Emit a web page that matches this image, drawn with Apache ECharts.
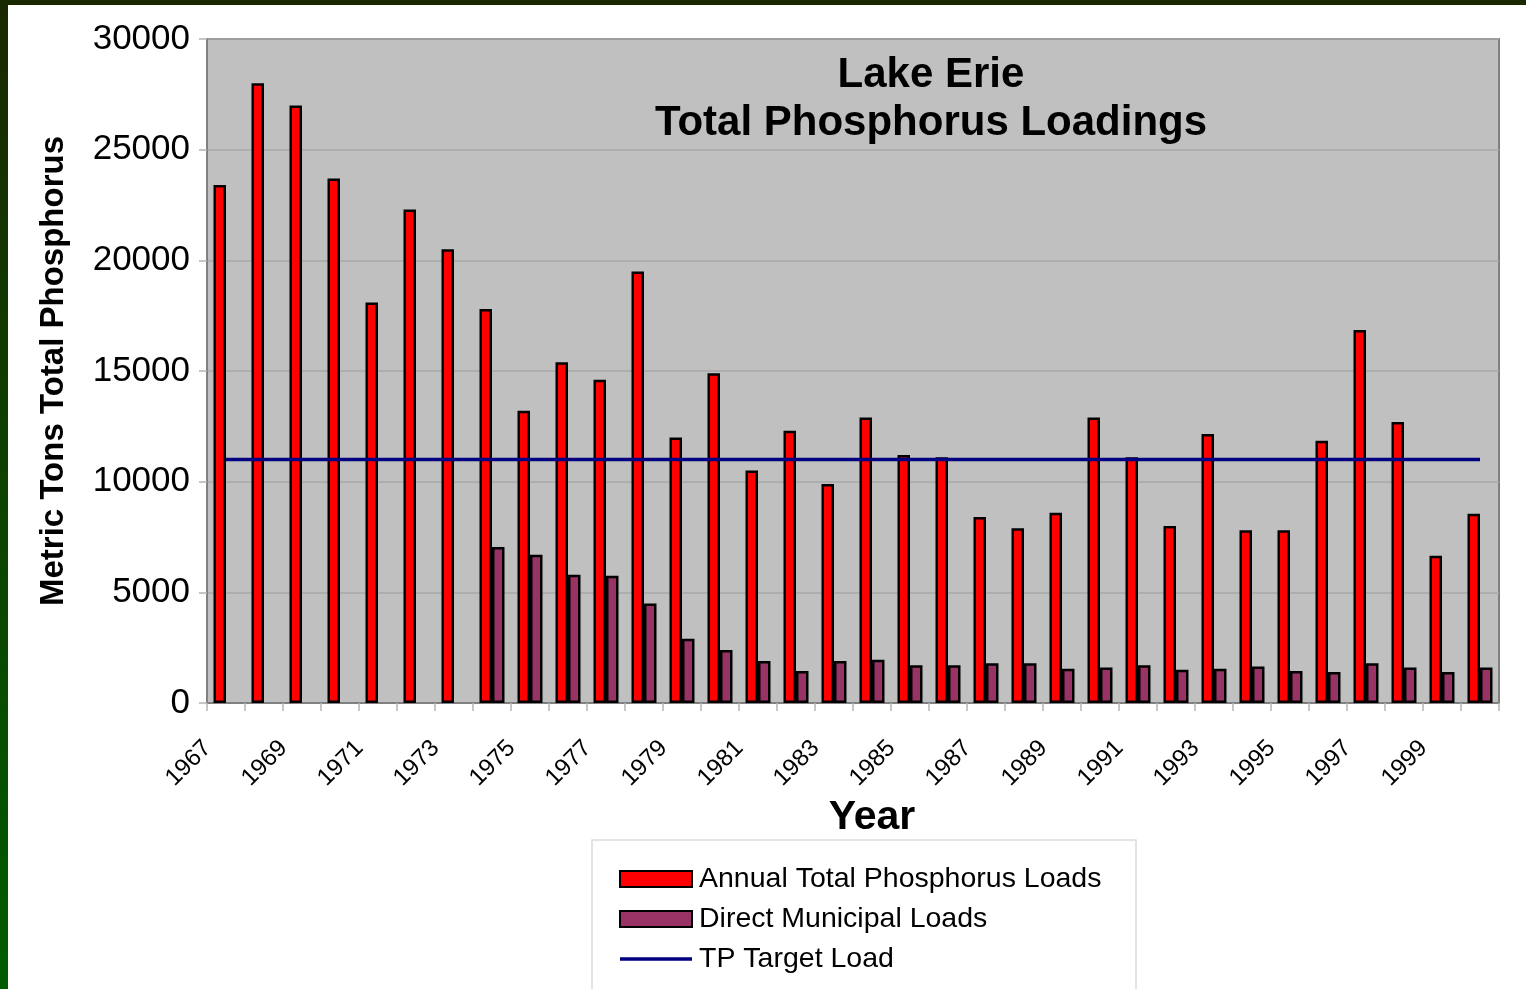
<!DOCTYPE html>
<html>
<head>
<meta charset="utf-8">
<title>Lake Erie Total Phosphorus Loadings</title>
<script src="https://cdn.jsdelivr.net/npm/echarts@6/dist/echarts.min.js"></script>
<style>
  html, body { margin: 0; padding: 0; background: #ffffff; }
  #chart { width: 1526px; height: 989px; }
</style>
</head>
<body>
<div id="chart"></div>
<script>
// Years on the category axis
const years = [
  '1967','1968','1969','1970','1971','1972','1973','1974','1975','1976',
  '1977','1978','1979','1980','1981','1982','1983','1984','1985','1986',
  '1987','1988','1989','1990','1991','1992','1993','1994','1995','1996',
  '1997','1998','1999','2000'
];

// Annual total phosphorus loads (metric tons)
const annualLoads = [
  23400, 28000, 27000, 23700, 18100, 22300, 20500, 17800, 13200, 15400,
  14600, 19500, 12000, 14900, 10500, 12300,  9900, 12900, 11200, 11100,
   8400,  7900,  8600, 12900, 11100,  8000, 12150,  7800,  7800, 11850,
  16850, 12700,  6650,  8550
];

// Direct municipal loads (metric tons); no data before 1974
const municipalLoads = [
  null, null, null, null, null, null, null, 7050, 6700, 5800,
  5750, 4500, 2900, 2400, 1900, 1450, 1900, 1950, 1700, 1700,
  1800, 1800, 1550, 1600, 1700, 1500, 1550, 1650, 1450, 1400,
  1800, 1600, 1400, 1600
];

// Target total phosphorus load (metric tons)
const targetLoad = [
  11000, 11000, 11000, 11000, 11000, 11000, 11000, 11000, 11000, 11000,
  11000, 11000, 11000, 11000, 11000, 11000, 11000, 11000, 11000, 11000,
  11000, 11000, 11000, 11000, 11000, 11000, 11000, 11000, 11000, 11000,
  11000, 11000, 11000, 11000
];

const yTicks = { min: 0, max: 30000, interval: 5000 };

const FONT = '"Liberation Sans", Arial, sans-serif';

// Legend icon for the target line: a thin bar centred in the 72x16 icon box
// (the zero-height strips at top and bottom only fix the box height).
const LINE_ICON = 'path://M0,0H72V0H0Z M0,16H72V16H0Z M0,6.2H72V9.8H0Z';

const chart = echarts.init(document.getElementById('chart'), null, { renderer: 'canvas' });

chart.setOption({
  backgroundColor: '#ffffff',
  animation: false,
  textStyle: { fontFamily: FONT },
  title: {
    text: 'Lake Erie\nTotal Phosphorus Loadings',
    left: 926,
    top: 46,
    textAlign: 'center',
    textStyle: {
      fontFamily: FONT,
      fontSize: 42,
      fontWeight: 'bold',
      color: '#000000',
      lineHeight: 48
    }
  },
  graphic: [
    // slide frame strips
    { type: 'rect', z: 0, shape: { x: 0, y: 0, width: 1526, height: 5 }, style: { fill: '#1a2800' } },
    {
      type: 'rect', z: 0, shape: { x: 0, y: 0, width: 8, height: 989 },
      style: {
        fill: new echarts.graphic.LinearGradient(0, 0, 0, 1, [
          { offset: 0, color: '#1a2800' },
          { offset: 1, color: '#005c00' }
        ])
      }
    },
    // legend frame
    {
      type: 'rect', z: 0,
      shape: { x: 592, y: 840, width: 544, height: 170 },
      style: { fill: '#ffffff', stroke: '#dcdcdc', lineWidth: 1.5 }
    }
  ],
  grid: {
    left: 207,
    right: 27,
    top: 39,
    bottom: 286,
    show: true,
    backgroundColor: '#c0c0c0',
    borderColor: '#808080',
    borderWidth: 2
  },
  legend: {
    orient: 'vertical',
    left: 619,
    top: 864,
    padding: 0,
    itemWidth: 72,
    itemHeight: 16,
    itemGap: 10,
    textStyle: { fontFamily: FONT, fontSize: 28.5, color: '#000000', lineHeight: 30, padding: [0, 0, 0, 2] },
    data: [
      { name: 'Annual Total Phosphorus Loads', icon: 'rect' },
      { name: 'Direct Municipal Loads', icon: 'rect' },
      {
        name: 'TP Target Load',
        icon: LINE_ICON,
        itemStyle: { color: '#000080', borderWidth: 0, borderColor: 'transparent' }
      }
    ]
  },
  xAxis: {
    type: 'category',
    data: years,
    name: 'Year',
    nameLocation: 'middle',
    nameGap: 90,
    nameTextStyle: { fontFamily: FONT, fontSize: 41, fontWeight: 'bold', color: '#000000', padding: [0, 0, 0, 38] },
    axisLine: { lineStyle: { color: '#808080', width: 2 } },
    axisTick: { show: true, interval: 0, length: 8, lineStyle: { color: '#b4b4b4', width: 1.5 } },
    axisLabel: {
      interval: 1,
      rotate: 45,
      margin: 23,
      fontFamily: FONT,
      fontSize: 24,
      color: '#000000',
      padding: [0, 26, 0, 0]
    },
    splitLine: { show: false }
  },
  yAxis: {
    type: 'value',
    min: yTicks.min,
    max: yTicks.max,
    interval: yTicks.interval,
    name: 'Metric Tons Total Phosphorus',
    nameLocation: 'middle',
    nameGap: 137,
    nameTextStyle: { fontFamily: FONT, fontSize: 33, fontWeight: 'bold', color: '#000000' },
    axisLine: { show: true, lineStyle: { color: '#808080', width: 2 } },
    axisTick: { show: true, length: 8, lineStyle: { color: '#b4b4b4', width: 1.5 } },
    axisLabel: {
      margin: 17, fontFamily: FONT, fontSize: 35, color: '#000000',
      formatter: function (v) { return String(v); }
    },
    splitLine: { show: true, lineStyle: { color: '#a8a8a8', width: 1.5 } }
  },
  series: [
    {
      name: 'Annual Total Phosphorus Loads',
      type: 'bar',
      data: annualLoads,
      barWidth: 12.5,
      barGap: '0%',
      itemStyle: { color: '#ff0000', borderColor: '#000000', borderWidth: 2.5 },
      z: 2
    },
    {
      name: 'Direct Municipal Loads',
      type: 'bar',
      data: municipalLoads,
      barWidth: 12.5,
      barGap: '0%',
      itemStyle: { color: '#993366', borderColor: '#000000', borderWidth: 2.5 },
      z: 2
    },
    {
      name: 'TP Target Load',
      type: 'line',
      data: targetLoad,
      symbol: 'none',
      lineStyle: { color: '#000080', width: 3.5 },
      itemStyle: { color: '#000080' },
      z: 5
    }
  ]
});
</script>
</body>
</html>
